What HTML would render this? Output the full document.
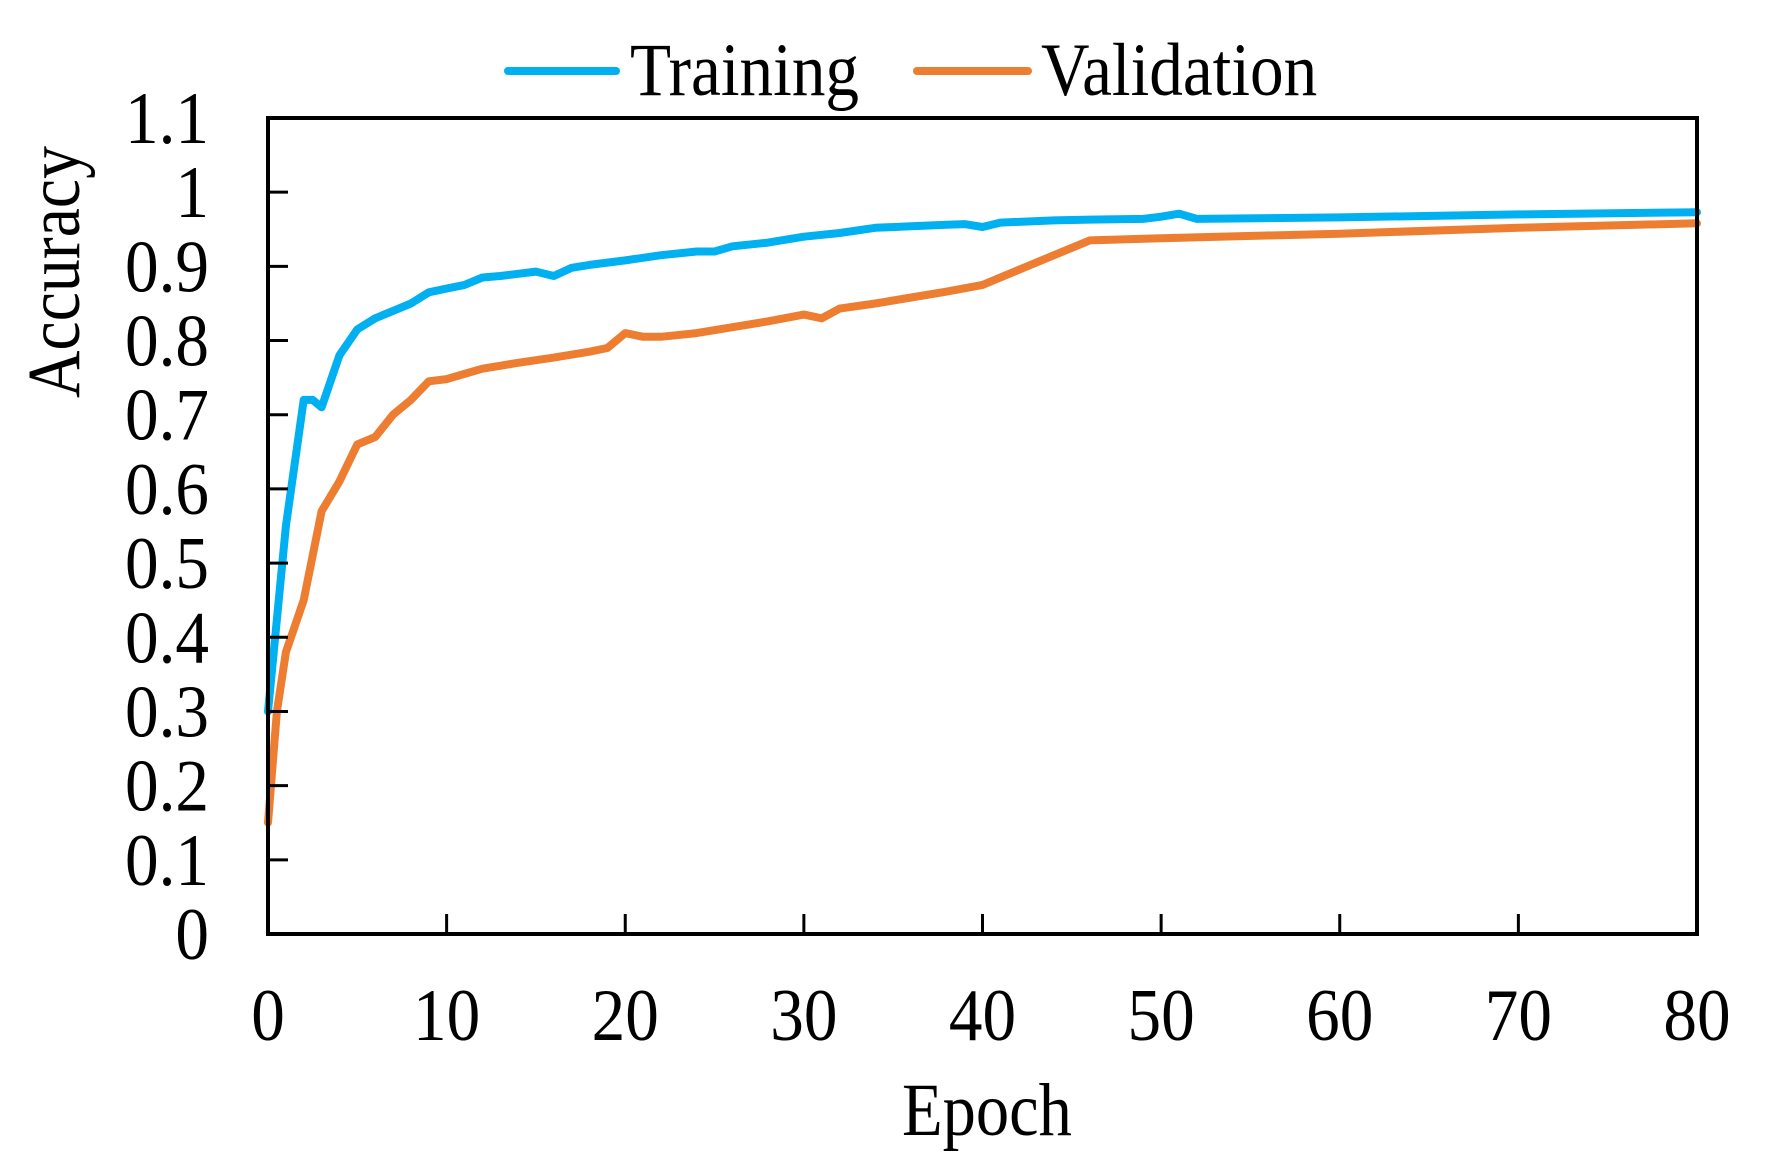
<!DOCTYPE html>
<html><head><meta charset="utf-8"><style>
html,body{margin:0;padding:0;background:#fff;}
svg{display:block;font-family:"Liberation Serif",serif;}
</style></head><body>
<svg id="chart" width="1767" height="1174" viewBox="0 0 1767 1174" xmlns="http://www.w3.org/2000/svg">
<g id="legend">
  <g>
    <line x1="508" y1="71" x2="616" y2="71" stroke="#00b0f0" stroke-width="8" stroke-linecap="round"/>
    <text transform="translate(630,95) scale(0.96,1.08)" font-size="70">Training</text>
  </g>
  <g>
    <line x1="917" y1="71" x2="1028" y2="71" stroke="#ed7d31" stroke-width="8" stroke-linecap="round"/>
    <text transform="translate(1041,95) scale(0.96,1.08)" font-size="70">Validation</text>
  </g>
</g>
<g id="plot"></g>
<text transform="translate(79,272) rotate(-90) scale(0.94,1.08)" font-size="70" text-anchor="middle">Accuracy</text>
<text transform="translate(987,1135) scale(0.95,1.08)" font-size="70" text-anchor="middle">Epoch</text>
</svg>
<script>
const xTicks = [0,10,20,30,40,50,60,70,80];
const yTicks = [0,0.1,0.2,0.3,0.4,0.5,0.6,0.7,0.8,0.9,1,1.1];
const yTickLabels = ["0","0.1","0.2","0.3","0.4","0.5","0.6","0.7","0.8","0.9","1","1.1"];
const trainEpochs = [0,1,2,2.5,3,4,5,6,7,8,9,10,11,12,13,14,15,16,17,18,20,22,24,25,26,28,30,32,34,36,38,39,40,41,44,46,49,50,51,52,60,70,80];
const trainAcc = [0.30,0.55,0.72,0.72,0.71,0.78,0.815,0.83,0.84,0.85,0.865,0.87,0.875,0.885,0.887,0.89,0.893,0.887,0.898,0.902,0.908,0.915,0.92,0.92,0.927,0.932,0.94,0.945,0.952,0.954,0.956,0.957,0.953,0.959,0.962,0.963,0.964,0.967,0.971,0.964,0.966,0.970,0.973];
const valEpochs = [0,0.5,1,2,3,4,5,6,7,8,9,10,11,12,14,16,18,19,20,21,22,24,26,28,30,31,32,34,36,38,40,42,44,46,50,60,70,80];
const valAcc = [0.15,0.30,0.38,0.45,0.57,0.61,0.66,0.67,0.70,0.72,0.745,0.748,0.755,0.762,0.77,0.777,0.785,0.79,0.81,0.805,0.805,0.81,0.818,0.826,0.835,0.83,0.843,0.85,0.858,0.866,0.875,0.895,0.915,0.935,0.938,0.944,0.952,0.958];

const L=268,R=1697,T=118,B=934;
const xs=v=>L+(v-0)/(80-0)*(R-L);
const ys=v=>B-(v-0)/(1.1-0)*(B-T);
const NS="http://www.w3.org/2000/svg";
const plot=document.getElementById('plot');
function mk(tag,attrs){const e=document.createElementNS(NS,tag);for(const k in attrs)e.setAttribute(k,attrs[k]);return e;}

function series(ex,ey,color,name){
  const p=mk('polyline',{points:ex.map((e,i)=>xs(e).toFixed(1)+','+ys(ey[i]).toFixed(1)).join(' '),fill:'none',stroke:color,'stroke-width':8,'stroke-linejoin':'round','stroke-linecap':'round'});
  
  
  plot.appendChild(p);
}
series(valEpochs,valAcc,'#ed7d31','validation-line');
series(trainEpochs,trainAcc,'#00b0f0','training-line');

const frame=mk('rect',{x:L,y:T,width:R-L,height:B-T,fill:'none',stroke:'#000','stroke-width':4});


plot.appendChild(frame);

yTicks.forEach((v,i)=>{
  const t=mk('line',{x1:L,x2:L+20,y1:ys(v),y2:ys(v),stroke:'#000','stroke-width':3});
  
  
  plot.appendChild(t);
  const lb=mk('text',{transform:`translate(209,${ys(v)+25}) scale(0.96,1.06)`,'font-size':70,'text-anchor':'end'});
  lb.textContent=yTickLabels[i];
  
  
  plot.appendChild(lb);
});
xTicks.forEach(v=>{
  const t=mk('line',{x1:xs(v),x2:xs(v),y1:B,y2:B-20,stroke:'#000','stroke-width':3});
  
  
  plot.appendChild(t);
  const lb=mk('text',{transform:`translate(${xs(v)},1040) scale(0.96,1.06)`,'font-size':70,'text-anchor':'middle'});
  lb.textContent=String(v);
  
  
  plot.appendChild(lb);
});
</script>
</body></html>
